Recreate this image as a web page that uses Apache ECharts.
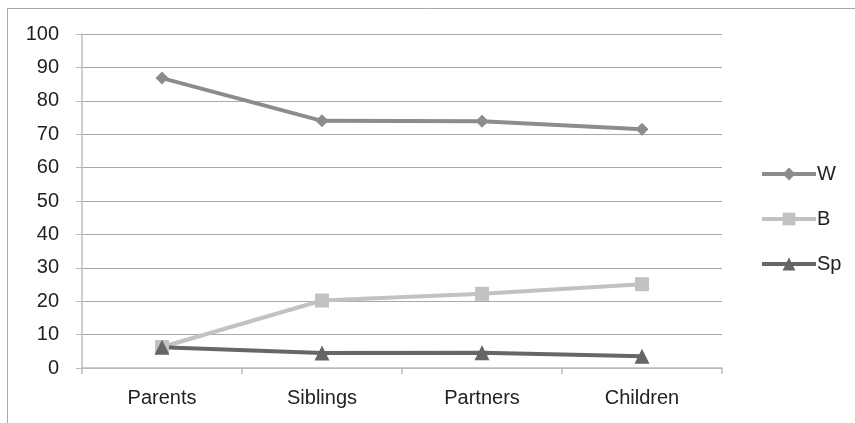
<!DOCTYPE html>
<html><head><meta charset="utf-8">
<script src="https://cdn.jsdelivr.net/npm/echarts@6/dist/echarts.min.js"></script>
<style>html,body{margin:0;padding:0;background:#fff}#c{width:855px;height:423px}</style>
</head><body><div id="c"></div>
<script>
const categories = ['Parents', 'Siblings', 'Partners', 'Children'];
const seriesW = [86.8, 74.0, 73.9, 71.5];
const seriesB = [6.3, 20.2, 22.2, 25.1];
const seriesSp = [6.2, 4.5, 4.6, 3.5];
const yTicks = [0, 10, 20, 30, 40, 50, 60, 70, 80, 90, 100];

const chart = echarts.init(document.getElementById('c'));
const font = 'Liberation Sans, Arial, sans-serif';
chart.setOption({
  animation: false,
  graphic: [{type: 'rect', shape: {x: 7.5, y: 8.5, width: 900, height: 500}, style: {fill: 'none', stroke: '#a8a8a8', lineWidth: 1}}],
  grid: {left: 82, right: 133, top: 34, bottom: 55, containLabel: false},
  legend: {
    orient: 'vertical', left: 755, top: 159, itemWidth: 54, itemHeight: 16, itemGap: 25,
    textStyle: {fontFamily: font, fontSize: 20, color: '#222', padding: [0, 0, 0, -4]},
    lineStyle: {width: 4},
    data: ['W', 'B', 'Sp']
  },
  xAxis: {
    type: 'category', data: categories, boundaryGap: true,
    axisLine: {lineStyle: {color: '#bcbcbc', width: 1.5}},
    axisTick: {show: true, length: 6, lineStyle: {color: '#bcbcbc', width: 1.5}},
    axisLabel: {fontFamily: font, fontSize: 20, color: '#222', margin: 20}
  },
  yAxis: {
    type: 'value', min: yTicks[0], max: yTicks[yTicks.length - 1], interval: 10,
    axisLine: {show: true, lineStyle: {color: '#bcbcbc', width: 1.5}},
    axisTick: {show: true, length: 6, lineStyle: {color: '#bcbcbc', width: 1}},
    axisLabel: {fontFamily: font, fontSize: 20, color: '#222', margin: 23},
    splitLine: {lineStyle: {color: '#a9a9a9', width: 1}}
  },
  series: [
    {name: 'W', type: 'line', data: seriesW, symbol: 'diamond', symbolSize: 13,
     lineStyle: {color: '#8c8c8e', width: 4}, itemStyle: {color: '#8c8c8e'}},
    {name: 'B', type: 'line', data: seriesB, symbol: 'rect', symbolSize: 14,
     lineStyle: {color: '#c2c2c2', width: 4}, itemStyle: {color: '#c2c2c2'}},
    {name: 'Sp', type: 'line', data: seriesSp, symbol: 'triangle', symbolSize: 15,
     lineStyle: {color: '#65656a', width: 4}, itemStyle: {color: '#65656a'}}
  ]
});
</script></body></html>
